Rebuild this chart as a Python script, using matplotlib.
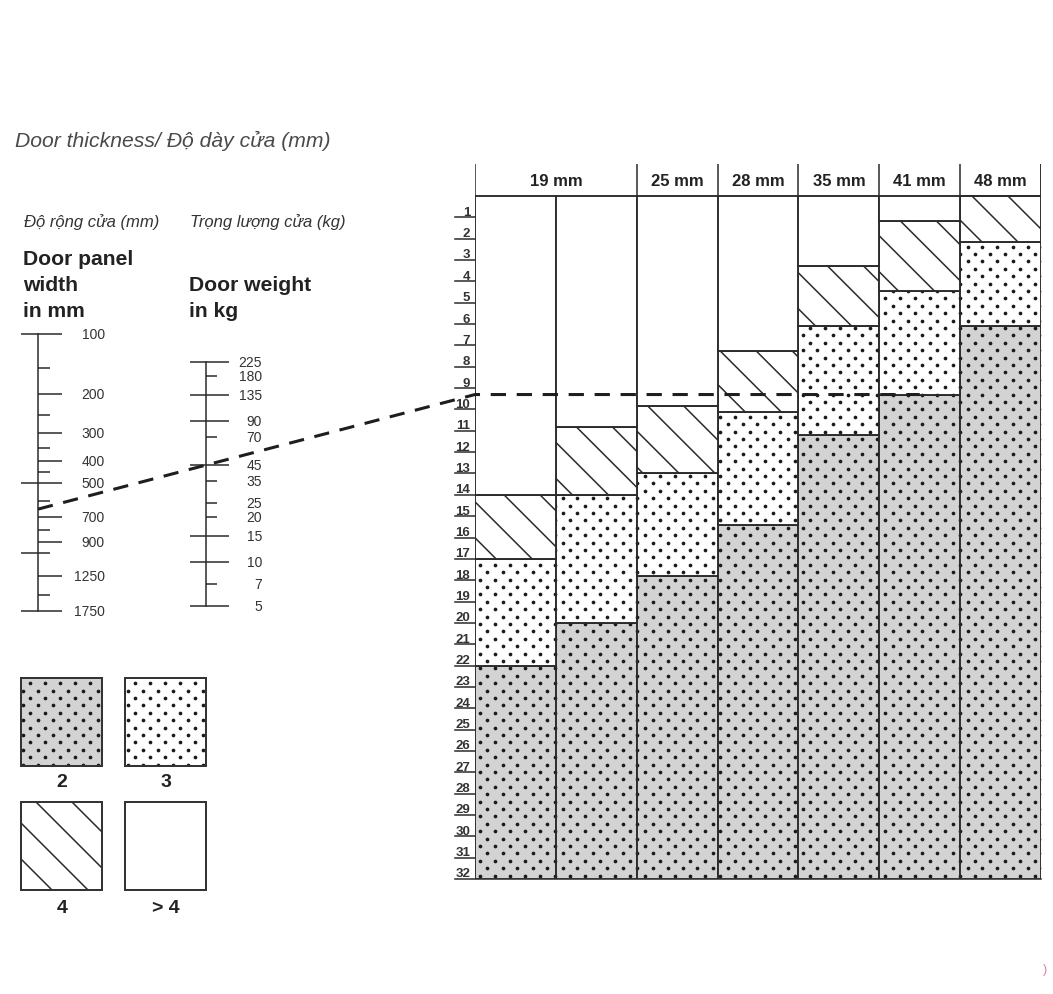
import numpy as np
import matplotlib
matplotlib.use("Agg")
import matplotlib.pyplot as plt
from matplotlib.patches import Rectangle
from matplotlib.lines import Line2D

plt.rcParams['font.family'] = ['Liberation Sans', 'DejaVu Sans']

# door thickness columns (19 mm is split into two columns)
thickness_cols = ['19 mm', '19 mm', '25 mm', '28 mm', '35 mm', '41 mm', '48 mm']
header_labels = ['19 mm', '25 mm', '28 mm', '35 mm', '41 mm', '48 mm']
header_span = [2, 1, 1, 1, 1, 1]

# row (0 = top, 32 = bottom) where each hinge zone starts, per column
zone_more_top = [0, 0, 0, 0, 0, 0, 0]
zone_4_top = [14.0, 10.8, 9.85, 7.25, 3.3, 1.15, 0.0]
zone_3_top = [17.0, 14.0, 13.0, 10.1, 6.1, 4.45, 2.17]
zone_2_top = [22.0, 20.0, 17.8, 15.4, 11.2, 9.3, 6.1]
n_rows = 32
row_labels = [str(i) for i in range(1, n_rows + 1)]

# door panel width scale (mm)
width_long = [100, 500, 1750]
width_labeled = [200, 300, 400, 700, 900, 1250]
width_minor = [150, 250, 350, 450, 600, 800, 1500]
width_left = [1000]

# door weight scale (kg)
weight_long = [225, 135, 90, 45, 15, 10, 5]
weight_short = [180, 70, 35, 25, 20, 7]

# example reading drawn as dashed line
example_width = 650
example_weight = 45
example_stop = 5.5

legend_labels = ['2', '3', '4', '> 4']

W, H = 1053, 995
line_c = '#2b2b2b'
gray = '#d3d3d3'

fig = plt.figure(figsize=(W / 100, H / 100), dpi=100)


def box(x0, y0, x1, y1):
    return [x0 / W, 1 - y1 / H, (x1 - x0) / W, (y1 - y0) / H]


def patch_px(axis, patch):
    x0, y0 = patch.get_x(), patch.get_y()
    pts = axis.transData.transform([(x0, y0), (x0 + patch.get_width(), y0 + patch.get_height())])
    return pts[:, 0].min(), pts[:, 0].max(), pts[:, 1].min(), pts[:, 1].max()


def stripes(axis, patch, gap=36, lw=1.1):
    left, right, bot, top = patch_px(axis, patch)
    h = top - bot
    if h <= 0:
        return
    inv = axis.transData.inverted()
    start = np.floor((left - h) / gap) * gap
    for c in np.arange(start, right + gap, gap):
        p = inv.transform([(c, top), (c + h, bot)])
        ln, = axis.plot(p[:, 0], p[:, 1], color=line_c, lw=lw)
        ln.set_clip_path(patch)


def dots(axis, patch, dx=15.0, dy=7.4, size=3.7):
    left, right, bot, top = patch_px(axis, patch)
    if top - bot <= 0:
        return
    j0, j1 = int(np.floor(bot / dy)) - 1, int(np.ceil(top / dy)) + 1
    pts = []
    for j in range(j0, j1 + 1):
        shift = (j % 2) * dx / 2
        i0, i1 = int(np.floor((left - shift) / dx)) - 1, int(np.ceil((right - shift) / dx)) + 1
        for i in range(i0, i1 + 1):
            pts.append((i * dx + shift, j * dy))
    pts = axis.transData.inverted().transform(np.array(pts))
    sc = axis.scatter(pts[:, 0], pts[:, 1], s=(size * 0.72) ** 2, color='#1a1a1a',
                      linewidths=0, zorder=patch.get_zorder() + 0.1)
    sc.set_clip_path(patch)


# ---- main chart ----
ax = fig.add_axes(box(475, 165, 1041, 880))
ax.set_xlim(0, 7)
ax.set_ylim(n_rows, -1.5)
ax.axis('off')

x = np.arange(len(thickness_cols))
z2 = np.array(zone_2_top)
z3 = np.array(zone_3_top)
z4 = np.array(zone_4_top)
zm = np.array(zone_more_top)

gray_bars = ax.bar(x, n_rows - z2, bottom=z2, width=1, align='edge', color=gray,
                   edgecolor=line_c, lw=1.1)
dot_bars = ax.bar(x, z2 - z3, bottom=z3, width=1, align='edge', color='white',
                  edgecolor=line_c, lw=1.1)
hatched = ax.bar(x, z3 - z4, bottom=z4, width=1, align='edge', color='white',
                 edgecolor=line_c, lw=1.1)
ax.bar(x, z4 - zm, bottom=zm, width=1, align='edge', color='white',
       edgecolor=line_c, lw=1.1)
for p in list(gray_bars.patches) + list(dot_bars.patches):
    dots(ax, p)
for p in hatched.patches:
    stripes(ax, p)
# zone borders on top of the patterns
for i in range(len(x)):
    for zt in (z2[i], z3[i], z4[i]):
        ax.plot([i, i + 1], [zt, zt], color=line_c, lw=1.2, zorder=3)

# frame and header
ax.plot([0, 0], [-1.5, n_rows], color=line_c, lw=1.1, zorder=3)
ax.plot([7, 7], [-1.5, n_rows], color=line_c, lw=1.1, zorder=3)
ax.plot([0, 7], [0, 0], color=line_c, lw=1.1, zorder=3)
for xi in range(1, 7):
    ax.plot([xi, xi], [0, n_rows], color=line_c, lw=1.1, zorder=3)
pos = 0
for lab, span in zip(header_labels, header_span):
    ax.text(pos + span / 2, -0.75, lab, ha='center', va='center',
            fontsize=12, fontweight='bold', color='#222')
    pos += span
    ax.plot([pos, pos], [-1.5, 0], color=line_c, lw=1.1)

# row numbers with underlines
for k, lab in enumerate(row_labels, start=1):
    ax.plot([-0.247, 0 if k < n_rows else 7], [k, k], color=line_c, lw=1.1,
            clip_on=False, zorder=3)
    ax.text(-0.06, k - 0.12, lab, ha='right', va='baseline', fontsize=9.5,
            fontweight='bold', color='#333',
            family=['Liberation Sans Narrow', 'Liberation Sans', 'DejaVu Sans'])

# ---- width scale ----
def fwd(v):
    return np.log10(np.maximum(np.asarray(v, dtype=float) + 30.0, 1e-9))


def inv(u):
    return 10 ** np.asarray(u, dtype=float) - 30.0


axw = fig.add_axes(box(0, 335, 180, 612))
axw.set_yscale('function', functions=(fwd, inv))
axw.set_ylim(1750, 100)
axw.set_xlim(-38, 142)
axw.axis('off')
axw.plot([0, 0], [100, 1750], color=line_c, lw=1.1, clip_on=False)
axw.hlines(width_long, -17, 24, color=line_c, lw=1.1, clip_on=False)
axw.hlines(width_labeled, 0, 24, color=line_c, lw=1.1, clip_on=False)
axw.hlines(width_minor, 0, 12, color=line_c, lw=1.1, clip_on=False)
axw.hlines(width_left, -17, 12, color=line_c, lw=1.1, clip_on=False)
for v in sorted(width_long + width_labeled):
    axw.text(67, v, str(v), ha='right', va='center', fontsize=10, color='#333')

# ---- weight scale ----
axk = fig.add_axes(box(150, 363, 330, 607))
axk.set_yscale('log')
axk.set_ylim(5, 225)
axk.set_xlim(-55.7, 124.3)
axk.axis('off')
axk.plot([0, 0], [5, 225], color=line_c, lw=1.1, clip_on=False)
axk.hlines(weight_long, -16, 23, color=line_c, lw=1.1, clip_on=False)
axk.hlines(weight_short, 0, 11, color=line_c, lw=1.1, clip_on=False)
for v in sorted(weight_long + weight_short):
    axk.text(56.3, v, str(v), ha='right', va='center', fontsize=10, color='#333')

# ---- dashed example line ----
p_w = axw.transData.transform((0, example_width))
p_k = axk.transData.transform((0, example_weight))
x_edge = ax.transData.transform((0, 0))[0]
slope = (p_k[1] - p_w[1]) / (p_k[0] - p_w[0])
y_edge = p_k[1] + slope * (x_edge - p_k[0])
row = ax.transData.inverted().transform((x_edge, y_edge))[1]
p_end = ax.transData.transform((example_stop, row))
pts = fig.transFigure.inverted().transform(np.array([p_w, (x_edge, y_edge), p_end]))
fig.add_artist(Line2D(pts[:, 0], pts[:, 1], transform=fig.transFigure, color='#1e1e1e',
                      lw=2.2, ls=(0, (5, 3.5)), zorder=10))

# ---- titles ----
fig.text(15 / W, 1 - 147 / H, 'Door thickness/ Độ dày cửa (mm)', style='italic',
         fontsize=15.2, color='#4a4a4a', va='baseline')
fig.text(24 / W, 1 - 227 / H, 'Độ rộng cửa (mm)', style='italic', fontsize=12,
         color='#333', va='baseline')
fig.text(190 / W, 1 - 227 / H, 'Trọng lượng cửa (kg)', style='italic', fontsize=12,
         color='#333', va='baseline')
for txt, yb in zip(['Door panel', 'width', 'in mm'], [265, 291, 317]):
    fig.text(23 / W, 1 - yb / H, txt, fontsize=15.2, fontweight='bold', color='#222', va='baseline')
for txt, yb in zip(['Door weight', 'in kg'], [291, 317]):
    fig.text(189 / W, 1 - yb / H, txt, fontsize=15.2, fontweight='bold', color='#222', va='baseline')

# ---- legend ----
axl = fig.add_axes(box(0, 660, 230, 930))
axl.set_xlim(0, 230)
axl.set_ylim(930, 660)
axl.axis('off')
squares = [
    Rectangle((21, 679), 81, 88, facecolor=gray, edgecolor='#333', lw=1.3),
    Rectangle((125, 679), 81, 88, facecolor='white', edgecolor='#333', lw=1.3),
    Rectangle((21, 803), 81, 88, facecolor='white', edgecolor='#333', lw=1.3),
    Rectangle((125, 803), 81, 88, facecolor='white', edgecolor='#333', lw=1.3),
]
for sq in squares:
    axl.add_patch(sq)
dots(axl, squares[0])
dots(axl, squares[1])
stripes(axl, squares[2])
for sq in squares:
    axl.add_patch(Rectangle(sq.get_xy(), sq.get_width(), sq.get_height(), fill=False,
                            edgecolor='#333', lw=1.3, zorder=3))
label_pos = [(62, 783), (166, 783), (62, 909), (166, 909)]
for lab, (lx, ly) in zip(legend_labels, label_pos):
    axl.text(lx, ly, lab, ha='center', va='center', fontsize=14, fontweight='bold', color='#222')

fig.text(1045 / W, 1 - 970 / H, ')', fontsize=9, color='#c05070', alpha=0.7,
         ha='center', va='center')

fig.savefig('out.png', dpi=100)
